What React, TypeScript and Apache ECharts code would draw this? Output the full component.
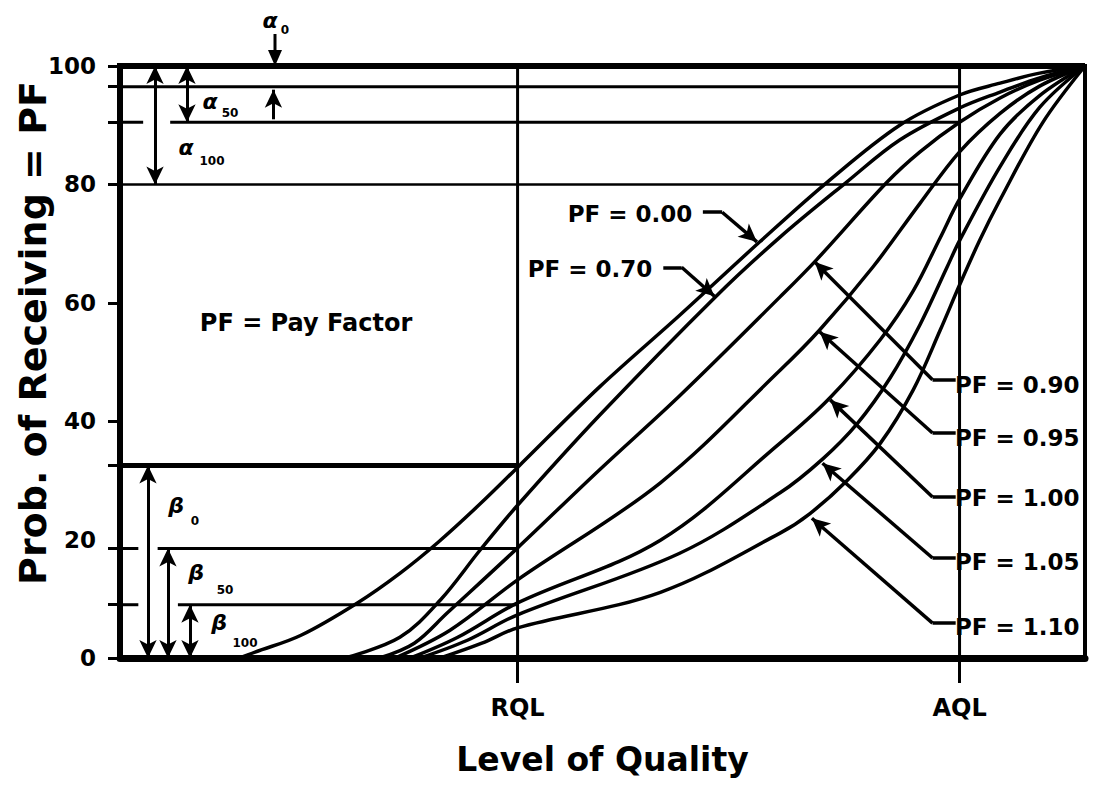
import React, { useEffect, useRef } from "react";
import * as echarts from "echarts";

// ---- data (x: level of quality 0..100, y: probability %) ----
const xTickValues = [41.2, 87.0];
const xTickLabels = ["RQL", "AQL"];
const yLabelValues = [0, 20, 40, 60, 80, 100];
const yTickValues = [0, 9, 18.5, 32.5, 40, 60, 80, 90.5, 96.5, 100];

const curveLabels = ["PF = 0.00", "PF = 0.70", "PF = 0.90", "PF = 0.95", "PF = 1.00", "PF = 1.05", "PF = 1.10"];

const pf000: number[][] = [[12.4, 0], [14.0, 1.0], [18.7, 3.8], [24.6, 9.3], [29.0, 14.3], [33.0, 19.6], [37.3, 26.0], [41.2, 32.2], [49.7, 45.8], [58.0, 57.9], [66.3, 70.3], [73.3, 80.4], [80.8, 90.0], [87.0, 95.1], [91.2, 97.1], [95.3, 98.8], [100, 100]];
const pf070: number[][] = [[23.3, 0], [29.0, 3.5], [33.2, 9.8], [37.3, 18.2], [41.2, 25.8], [49.7, 41.0], [61.7, 61.0], [68.4, 71.1], [75.3, 80.4], [80.8, 87.5], [87.0, 92.9], [91.2, 95.6], [95.3, 98.0], [100, 100]];
const pf090: number[][] = [[26.9, 0], [30.5, 2.5], [33.9, 7.6], [41.2, 18.6], [49.7, 31.8], [58.0, 44.3], [68.4, 61.0], [72.2, 67.3], [79.5, 80.4], [82.9, 85.5], [87.0, 90.5], [91.2, 94.6], [95.3, 97.6], [100, 100]];
const pf095: number[][] = [[28.5, 0], [34.2, 4.7], [41.2, 13.2], [56.0, 29.6], [68.4, 48.6], [72.5, 55.4], [78.0, 66.0], [82.9, 76.8], [87.0, 85.5], [91.2, 92.0], [95.3, 96.6], [100, 100]];
const pf100: number[][] = [[30.1, 0], [35.0, 3.5], [41.2, 9.3], [56.0, 19.9], [68.4, 36.3], [73.6, 44.0], [78.8, 53.8], [82.2, 62.0], [85.0, 71.0], [87.0, 77.5], [91.2, 88.5], [95.3, 95.0], [100, 100]];
const pf105: number[][] = [[31.1, 0], [36.0, 3.0], [41.2, 7.3], [58.0, 17.7], [68.4, 27.9], [72.8, 33.6], [76.4, 39.6], [79.8, 47.3], [82.9, 56.3], [85.7, 66.0], [87.0, 70.5], [91.2, 83.0], [95.3, 93.0], [100, 100]];
const pf110: number[][] = [[33.2, 0], [37.5, 2.5], [41.2, 5.1], [56.0, 11.1], [68.4, 21.1], [71.5, 24.4], [75.3, 29.9], [78.8, 36.3], [82.2, 45.3], [85.0, 55.4], [87.0, 63.0], [89.1, 70.6], [91.2, 77.4], [95.6, 90.4], [100, 100]];
const curves = [pf000, pf070, pf090, pf095, pf100, pf105, pf110];

// reference levels (alpha / beta lines)
const alphaLevels = [96.5, 90.5, 80];
const betaLevels = [32.5, 18.5, 9];

// leader arrows: label anchor -> point on curve
const leftLeaders = [
  { y: 75.3, x0: 60.4, x1: 62.4, tip: [66.0, 70.3] },
  { y: 66.0, x0: 56.3, x1: 58.2, tip: [61.6, 61.1] },
];
const rightLeaderYs = [47.0, 38.0, 27.2, 16.9, 5.9];
const rightLeaderTips = [[72.0, 66.9], [72.5, 55.1], [73.6, 43.6], [72.8, 32.9], [71.7, 23.6]];

const FF = "DejaVu Sans";

export default function App() {
  const ref = useRef<HTMLDivElement>(null);
  useEffect(() => {
    if (!ref.current) return;
    const chart = echarts.init(ref.current, null, { renderer: "svg" });
    const black = "#000";
    const seg = (a: number[], b: number[], s0 = "none", s1 = "none", w = 3) => [
      { coord: a, symbol: s0 },
      { coord: b, symbol: s1, lineStyle: { width: w, color: black, type: "solid" } },
    ];
    const marks: any[] = [];
    // alpha arrows
    marks.push(seg([15.9, 91.0], [15.9, 96.0], "none", "arrow"));
    marks.push(seg([6.94, 100], [6.94, alphaLevels[1]], "arrow", "arrow"));
    marks.push(seg([3.63, 100], [3.63, alphaLevels[2]], "arrow", "arrow"));
    // beta arrows
    marks.push(seg([2.9, betaLevels[0]], [2.9, 0], "arrow", "arrow"));
    marks.push(seg([4.97, betaLevels[1]], [4.97, 0], "arrow", "arrow"));
    marks.push(seg([7.25, betaLevels[2]], [7.25, 0], "arrow", "arrow"));
    // leaders
    leftLeaders.forEach((l) => {
      marks.push(seg([l.x0, l.y], [l.x1, l.y], "none", "none", 3.5));
      marks.push(seg([l.x1, l.y], l.tip, "none", "arrow", 3.5));
    });
    rightLeaderYs.forEach((y, i) => {
      marks.push(seg([86.6, y], [84.2, y], "none", "none", 3.5));
      marks.push(seg([84.2, y], rightLeaderTips[i], "none", "arrow", 3.5));
    });

    const hline = (y: number, x0: number, x1: number, w: number) => ({
      type: "line",
      data: [[x0, y], [x1, y]],
      symbol: "none",
      silent: true,
      clip: false,
      lineStyle: { color: black, width: w },
      z: 2,
    });

    const series: any[] = [];
    curves.forEach((c, i) => {
      series.push({
        type: "line",
        name: curveLabels[i],
        data: c,
        smooth: 0.35,
        symbol: "none",
        silent: true,
        lineStyle: { color: black, width: 3.5 },
        z: 3,
      });
    });
    // RQL / AQL verticals
    xTickValues.forEach((x, i) => {
      series.push({
        type: "line",
        data: [[x, 0], [x, 100]],
        symbol: "none",
        silent: true,
        lineStyle: { color: black, width: 3 },
        z: 2,
        markLine:
          i === 0
            ? {
                silent: true,
                symbolSize: [13, 18],
                label: { show: false },
                lineStyle: { color: black, width: 3, type: "solid" },
                emphasis: { disabled: true },
                data: marks,
              }
            : undefined,
      });
    });
    // top thick border
    series.push(hline(100, -1.3, 100, 6));
    // alpha lines (to AQL)
    series.push(hline(alphaLevels[0], 0, xTickValues[1], 3));
    series.push(hline(alphaLevels[1], 0, 2.4, 3));
    series.push(hline(alphaLevels[1], 5.2, xTickValues[1], 3));
    series.push(hline(alphaLevels[2], 0, xTickValues[1], 2.5));
    // beta lines (to RQL)
    series.push(hline(betaLevels[0], 0, xTickValues[0], 5));
    series.push(hline(betaLevels[1], 0, 1.9, 3));
    series.push(hline(betaLevels[1], 3.9, xTickValues[0], 3));
    series.push(hline(betaLevels[2], 0, 1.9, 3));
    series.push(hline(betaLevels[2], 6.0, xTickValues[0], 3));

    const txt = (text: string, x: number, y: number, size: number, align = "center", italic = false, rotation = 0) => ({
      type: "text",
      x,
      y,
      rotation,
      silent: true,
      z: 10,
      style: {
        text,
        fill: black,
        font: `${italic ? "italic " : ""}bold ${size}px "${FF}"`,
        textAlign: align,
        textVerticalAlign: "middle",
      },
    });

    const graphic: any[] = [
      txt("Prob. of Receiving = PF", 33, 333, 38, "center", false, Math.PI / 2),
      txt("PF = Pay Factor", 306, 323, 24),
      txt(curveLabels[0], 630, 214, 23),
      txt(curveLabels[1], 590, 269, 23),
      ...curveLabels.slice(2).map((t, i) => txt(t, 955, [385, 438, 498, 562, 627][i], 23, "left")),
      txt("α", 270, 20, 22, "center", true),
      txt("0", 285, 30, 12),
      { type: "line", silent: true, z: 10, shape: { x1: 275, y1: 34, x2: 275, y2: 54 }, style: { stroke: black, lineWidth: 3 } },
      { type: "polygon", silent: true, z: 10, shape: { points: [[268, 50], [282, 50], [275, 66]] }, style: { fill: black } },
      txt("α", 210, 101, 22, "center", true),
      txt("50", 230, 113, 12),
      txt("α", 186, 147, 22, "center", true),
      txt("100", 212, 161, 12),
      txt("β", 176, 505, 22, "center", true),
      txt("0", 195, 521, 12),
      txt("β", 196, 572, 22, "center", true),
      txt("50", 225, 590, 12),
      txt("β", 219, 622, 22, "center", true),
      txt("100", 245, 643, 12),
    ];

    chart.setOption({
      animation: false,
      backgroundColor: "#fff",
      grid: { left: 120, right: 11, top: 66, bottom: 135, show: true, borderColor: black, borderWidth: 4, backgroundColor: "transparent" },
      xAxis: {
        type: "value",
        min: 0,
        max: 100,
        axisLine: { show: true, onZero: false, lineStyle: { color: black, width: 7 } },
        axisTick: { show: true, customValues: xTickValues, length: 25, lineStyle: { color: black, width: 3 } },
        axisLabel: {
          customValues: xTickValues,
          formatter: (v: number) => xTickLabels[xTickValues.indexOf(v)] ?? "",
          margin: 38,
          fontSize: 24,
          fontWeight: "bold",
          fontFamily: FF,
          color: black,
        },
        splitLine: { show: false },
        name: "Level of Quality",
        nameLocation: "middle",
        nameGap: 85,
        nameTextStyle: { fontSize: 33, fontWeight: "bold", fontFamily: FF, color: black },
      },
      yAxis: {
        type: "value",
        min: 0,
        max: 100,
        interval: 20,
        axisLine: { show: true, lineStyle: { color: black, width: 6 } },
        axisTick: { show: true, customValues: yTickValues, length: 12, lineStyle: { color: black, width: 3 } },
        axisLabel: { customValues: yLabelValues, margin: 24, fontSize: 23, fontWeight: "bold", fontFamily: FF, color: black },
        splitLine: { show: false },
      },
      series,
      graphic,
    });
    return () => chart.dispose();
  }, []);
  return <div ref={ref} style={{ position: "absolute", left: 0, top: 0, width: 1096, height: 793 }} />;
}
